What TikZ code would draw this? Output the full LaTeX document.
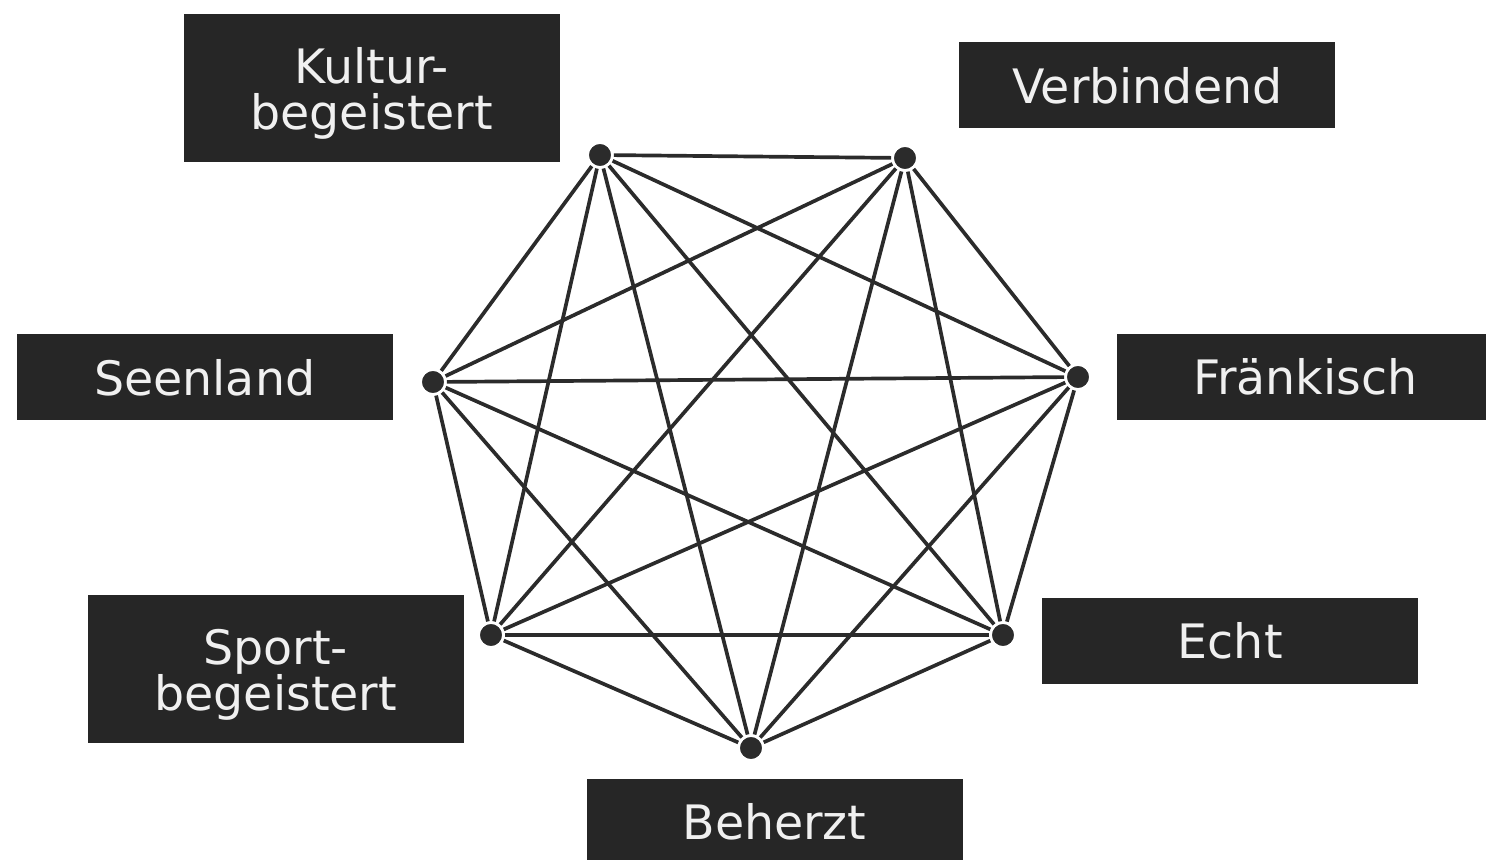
\documentclass[tikz,border=0pt]{standalone}
\usepackage{fontspec}
\setmainfont{DejaVu Sans}
\usetikzlibrary{positioning}
\definecolor{boxgray}{HTML}{262626}
\definecolor{linegray}{HTML}{2B2B2B}
\definecolor{labelwhite}{HTML}{F0F0F0}

\begin{document}
\begin{tikzpicture}[
    value/.style={
      align=center, fill=boxgray, text=labelwhite, inner sep=0pt,
      minimum width=7.52cm, minimum height=1.72cm,
      font=\fontsize{27}{26.2}\selectfont
    },
    tallvalue/.style={
      value, minimum height=2.96cm, text depth=0pt
    },
    point/.style={
      circle, fill=linegray, draw=white, line width=1.6pt,
      minimum size=0.5cm, inner sep=0pt
    },
    edge/.style={
      linegray, line width=2.1pt
    },
  ]
    \useasboundingbox (0,0) rectangle (29.72,17.2);
    \clip (0,0) rectangle (29.72,17.2);

    % Points
    \node [point] (kultur_dot) at (12.00,14.10) {};
    \node [point] (verbindend_dot) at (18.10,14.04) {};
    \node [point] (fraenkisch_dot) at (21.56,9.66) {};
    \node [point] (echt_dot) at (20.06,4.50) {};
    \node [point] (beherzt_dot) at (15.02,2.24) {};
    \node [point] (sport_dot) at (9.82,4.50) {};
    \node [point] (seenland_dot) at (8.66,9.56) {};

    % Values
    \node [tallvalue, left=.52cm of kultur_dot, yshift=1.33cm] (kultur) {Kultur-\\begeistert};
    \node [value, right=.8cm of verbindend_dot, yshift=1.45cm] (verbindend) {Verbindend};
    \node [value, right=.5cm of fraenkisch_dot] (fraenkisch) {Fränkisch};
    \node [value, right=.5cm of echt_dot, yshift=-.12cm] (echt) {Echt};
    \node [value, below=.34cm of beherzt_dot, xshift=.47cm] (beherzt) {Beherzt};
    \node [tallvalue, left=.26cm of sport_dot, yshift=-.69cm] (sport) {Sport-\\begeistert};
    \node [value, left=.52cm of seenland_dot, yshift=.09cm] (seenland) {Seenland};

    % Edges Kultur
    \draw [edge] (kultur_dot) -- (verbindend_dot);
    \draw [edge] (kultur_dot) -- (fraenkisch_dot);
    \draw [edge] (kultur_dot) -- (echt_dot);
    \draw [edge] (kultur_dot) -- (beherzt_dot);
    \draw [edge] (kultur_dot) -- (sport_dot);
    \draw [edge] (kultur_dot) -- (seenland_dot);

    % Edges Verbindend
    \draw [edge] (verbindend_dot) -- (fraenkisch_dot);
    \draw [edge] (verbindend_dot) -- (echt_dot);
    \draw [edge] (verbindend_dot) -- (beherzt_dot);
    \draw [edge] (verbindend_dot) -- (sport_dot);
    \draw [edge] (verbindend_dot) -- (seenland_dot);

    % Edges Fraenkisch
    \draw [edge] (fraenkisch_dot) -- (echt_dot);
    \draw [edge] (fraenkisch_dot) -- (beherzt_dot);
    \draw [edge] (fraenkisch_dot) -- (sport_dot);
    \draw [edge] (fraenkisch_dot) -- (seenland_dot);

    % Edges Echt
    \draw [edge] (echt_dot) -- (beherzt_dot);
    \draw [edge] (echt_dot) -- (sport_dot);
    \draw [edge] (echt_dot) -- (seenland_dot);

    % Edges Beherzt, Sport
    \draw [edge] (beherzt_dot) -- (sport_dot);
    \draw [edge] (beherzt_dot) -- (seenland_dot);
    \draw [edge] (sport_dot) -- (seenland_dot);

  \end{tikzpicture}
\end{document}
